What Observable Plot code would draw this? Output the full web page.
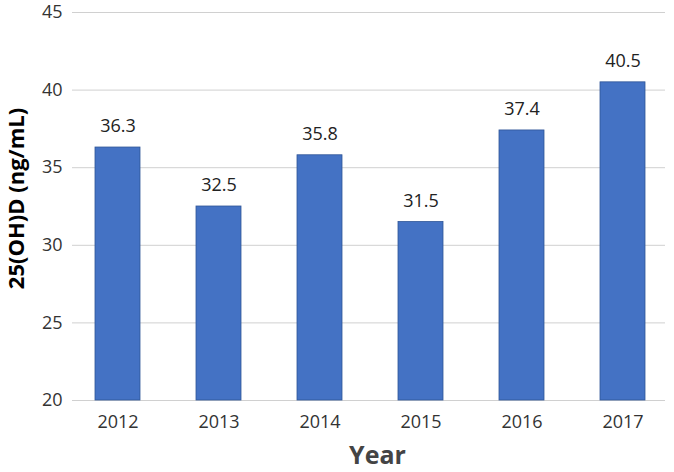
<!DOCTYPE html>
<html>
<head>
<meta charset="utf-8">
<script src="https://cdn.jsdelivr.net/npm/d3@7"></script>
<script src="https://cdn.jsdelivr.net/npm/@observablehq/plot@0.6"></script>
<style>
  html, body { margin: 0; padding: 0; background: #fff; }
  #chart { width: 674px; height: 472px; }
</style>
</head>
<body>
<div id="chart"></div>
<script>
const years = ["2012", "2013", "2014", "2015", "2016", "2017"];
const values = [36.3, 32.5, 35.8, 31.5, 37.4, 40.5];
const yTicks = [20, 25, 30, 35, 40, 45];

const data = years.map((year, i) => ({year, value: values[i]}));

const font = "'Open Sans', 'Liberation Sans', sans-serif";

const chart = Plot.plot({
  width: 674,
  height: 472,
  marginTop: 12,
  marginBottom: 72,
  marginLeft: 66,
  marginRight: 0,
  style: {fontFamily: font, fontSize: "18px", color: "#333", background: "#fff", overflow: "visible"},
  x: {domain: years, paddingInner: 0.55, paddingOuter: 0.275, align: 0.5, label: null, tickSize: 0, tickPadding: 15},
  y: {domain: [20, 45], ticks: yTicks, label: null, tickSize: 0, tickPadding: 4},
  marks: [
    Plot.ruleY(yTicks, {stroke: "#d0d0d0", strokeWidth: 1, insetLeft: 6, insetRight: 9}),
    Plot.barY(data, {x: "year", y1: 20, y2: "value", fill: "#4472c4", stroke: "#2f5597", strokeWidth: 0.8}),
    Plot.text(data, {x: "year", y: "value", text: d => d.value.toFixed(1), dy: -21, fontSize: 18, fill: "#222"}),
    Plot.text(["Year"], {frameAnchor: "bottom", lineAnchor: "middle", textAnchor: "middle", dy: 55, dx: 7, text: d => d, fontSize: 25, fontWeight: "bold", fill: "#444"}),
    Plot.text(["25(OH)D (ng/mL)"], {frameAnchor: "left", textAnchor: "middle", lineAnchor: "middle", dx: -50, dy: -8, rotate: -90, text: d => d, fontSize: 22, fontWeight: "bold", fill: "#000"})
  ]
});
document.getElementById("chart").appendChild(chart);
</script>
</body>
</html>
